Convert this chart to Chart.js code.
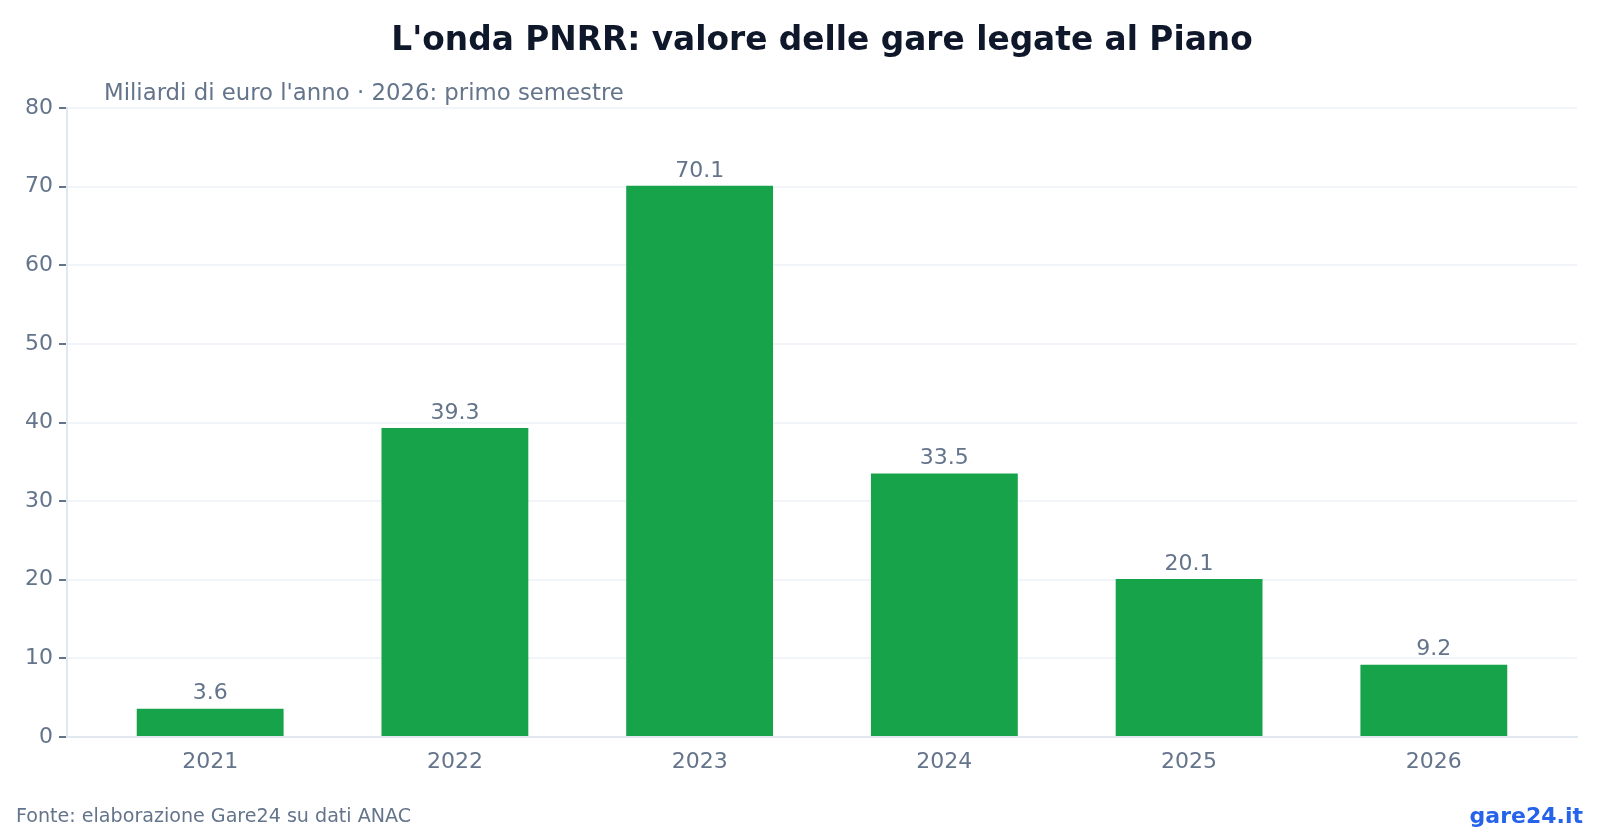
<!DOCTYPE html>
<html>
<head>
<meta charset="utf-8">
<script src="https://cdn.jsdelivr.net/npm/chart.js@4.4.1/dist/chart.umd.min.js"></script>
<style>
  html, body { margin: 0; padding: 0; background: #ffffff; }
  #wrap { width: 1600px; height: 832px; position: relative; }
</style>
</head>
<body>
<div id="wrap"><canvas id="c" width="1600" height="832"></canvas></div>
<script>
const years = ["2021", "2022", "2023", "2024", "2025", "2026"];
const values = [3.6, 39.3, 70.1, 33.5, 20.1, 9.2];
const yTicks = [0, 10, 20, 30, 40, 50, 60, 70, 80];
const titleText = "L'onda PNRR: valore delle gare legate al Piano";
const subtitleText = "Miliardi di euro l'anno · 2026: primo semestre";
const sourceText = "Fonte: elaborazione Gare24 su dati ANAC";
const brandText = "gare24.it";

const FONT = "'DejaVu Sans', 'Liberation Sans', sans-serif";
const GRAY = "#64748b";

const points = values.map((v, i) => ({ x: i, y: v }));

const decor = {
  id: 'decor',
  afterDraw(chart) {
    const ctx = chart.ctx;
    ctx.save();
    ctx.fillStyle = "#0f172a";
    ctx.font = "bold 32.8px " + FONT;
    ctx.textAlign = "center";
    ctx.textBaseline = "middle";
    ctx.fillText(titleText, 822, 41);

    ctx.fillStyle = GRAY;
    ctx.font = "22.8px " + FONT;
    ctx.textAlign = "left";
    ctx.fillText(subtitleText, 104, 94);

    ctx.font = "19.1px " + FONT;
    ctx.fillText(sourceText, 16, 817);

    ctx.fillStyle = "#2563eb";
    ctx.font = "bold 22px " + FONT;
    ctx.textAlign = "right";
    ctx.fillText(brandText, 1583, 817);

    // value labels
    const meta = chart.getDatasetMeta(0);
    ctx.fillStyle = GRAY;
    ctx.font = "22px " + FONT;
    ctx.textAlign = "center";
    ctx.textBaseline = "middle";
    meta.data.forEach((bar, i) => {
      ctx.fillText(values[i].toFixed(1), bar.x, bar.y - 15);
    });
    ctx.restore();
  }
};

new Chart(document.getElementById('c'), {
  type: 'bar',
  data: {
    datasets: [{
      data: points,
      backgroundColor: "#16a34a",
      borderWidth: 0,
      barPercentage: 0.6,
      categoryPercentage: 1.0
    }]
  },
  options: {
    responsive: false,
    devicePixelRatio: 1,
    animation: false,
    layout: { padding: { top: 108, left: 0, right: 23, bottom: 0 } },
    plugins: {
      legend: { display: false },
      title: { display: false },
      tooltip: { enabled: false }
    },
    scales: {
      x: {
        type: 'linear',
        offset: false,
        min: -0.585,
        max: years.length - 1 + 0.585,
        afterBuildTicks(axis) { axis.ticks = years.map((y, i) => ({ value: i })); },
        afterFit(axis) { axis.height = 95; },
        grid: { display: false, drawTicks: true, tickLength: 8, tickColor: "#64748b" },
        border: { color: "#e2e8f0", width: 2 },
        ticks: {
          color: GRAY, font: { family: FONT, size: 22 }, padding: 4,
          callback: (v) => years[v]
        }
      },
      y: {
        min: 0, max: 80,
        afterFit(axis) { axis.width = 67; },
        afterBuildTicks(axis) { axis.ticks = yTicks.map(v => ({ value: v })); },
        grid: { color: "#f1f5f9", lineWidth: 2, tickLength: 8, tickColor: "#64748b" },
        border: { color: "#e2e8f0", width: 2 },
        ticks: { color: GRAY, font: { family: FONT, size: 22 }, padding: 6 }
      }
    }
  },
  plugins: [decor]
});
</script>
</body>
</html>
